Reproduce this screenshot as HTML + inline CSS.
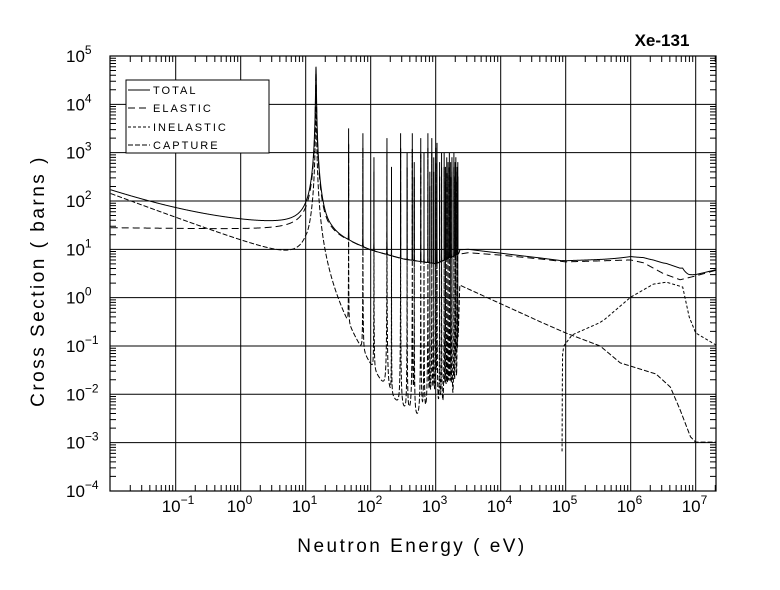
<!DOCTYPE html>
<html><head><meta charset="utf-8"><style>
html,body{margin:0;padding:0;background:#fff;}
svg{display:block;font-family:"Liberation Sans",sans-serif;}
</style></head><body>
<svg id="s" width="780" height="590" viewBox="0 0 780 590" xmlns="http://www.w3.org/2000/svg">
<defs><clipPath id="c"><rect x="110" y="56" width="606" height="435"/></clipPath></defs>
<rect width="780" height="590" fill="#fff"/>
<g id="grid" stroke="#000" stroke-width="1" fill="none"></g>
<g id="curves" clip-path="url(#c)" fill="none" stroke="#000" stroke-width="1"></g>
<rect x="110" y="56" width="606" height="435" fill="none" stroke="#000" stroke-width="1.2"/>
<g id="labels" font-size="17" fill="#000"></g>
<text x="662" y="46" font-size="17" font-weight="bold" text-anchor="middle">Xe-131</text>
<text x="412" y="552" font-size="19" text-anchor="middle" letter-spacing="2.5" font-weight="300">Neutron Energy ( eV)</text>
<text transform="translate(44,281) rotate(-90)" font-size="19" text-anchor="middle" letter-spacing="2.5">Cross Section ( barns )</text>
<g id="legend">
<rect x="126" y="80" width="143" height="73" fill="#fff" stroke="#000" stroke-width="1"/>
<line x1="128" y1="90" x2="150" y2="90" stroke="#000"/>
<line x1="128" y1="108" x2="150" y2="108" stroke="#000" stroke-dasharray="7,4"/>
<line x1="128" y1="127" x2="150" y2="127" stroke="#000" stroke-dasharray="3,2"/>
<line x1="128" y1="145" x2="150" y2="145" stroke="#000" stroke-dasharray="5,2"/>
<g font-size="11" letter-spacing="2">
<text x="153" y="94">TOTAL</text>
<text x="153" y="112">ELASTIC</text>
<text x="153" y="131">INELASTIC</text>
<text x="153" y="149">CAPTURE</text>
</g></g>
</svg>
<script>
(function(){
var NS="http://www.w3.org/2000/svg";
function X(l){return 110.7+(l+2)*65;}
function Y(l){return 56+(5-l)*48.33;}
function el(tag,attrs,parent,txt){var e=document.createElementNS(NS,tag);for(var k in attrs)e.setAttribute(k,attrs[k]);if(txt!=null)e.textContent=txt;parent.appendChild(e);return e;}
var grid=document.getElementById('grid'),lab=document.getElementById('labels');
var d="";
for(var p=-1;p<=7;p++){var x=X(p);d+="M"+x+" 56V491";}
for(var q=-3;q<=4;q++){var y=Y(q);d+="M110 "+y+"H716";}
for(var p=-2;p<=7;p++){for(var m=2;m<=9;m++){var x=X(p+Math.log10(m));if(x>716)continue;d+="M"+x+" 491v-6M"+x+" 56v6";}}
for(var q=-4;q<=4;q++){for(var m=2;m<=9;m++){var y=Y(q+Math.log10(m));d+="M110 "+y+"h6M716 "+y+"h-6";}}
for(var q=-4;q<=5;q++){var y=Y(q);d+="M110 "+y+"h10M716 "+y+"h-10";}
el('path',{d:d},grid);
for(var p=-1;p<=7;p++){var x=X(p);var t=el('text',{x:x-14,y:512},lab);t.textContent="10";el('tspan',{dy:-8,'font-size':12},t,String(p).replace('-','\u2212'));}
for(var q=-4;q<=5;q++){var y=Y(q);var t=el('text',{x:66,y:y+6},lab);t.textContent="10";el('tspan',{dy:-8,'font-size':12},t,String(q).replace('-','\u2212'));}
function pw(pts,l){if(l<=pts[0][0])return pts[0][1];for(var i=1;i<pts.length;i++){if(l<=pts[i][0]){var a=pts[i-1],b=pts[i];return a[1]+(b[1]-a[1])*(l-a[0])/(b[0]-a[0]);}}return pts[pts.length-1][1];}
var Sc=[[-2,2.15],[0,1.15],[1.0,0.65],[1.3,-1.5],[1.5,-3.0],[3.3,-3.0],[3.37,0.26],[4.61,-0.5],[5,-0.73],[5.53,-1.0],[5.84,-1.35],[6.39,-1.58],[6.61,-1.85],[6.76,-2.32],[6.92,-2.88],[7,-2.99],[7.4,-2.99]];
var Se=[[-2,1.36],[1.4,1.3],[2,0.98],[2.5,0.8],[3,0.7],[3.36,0.9],[3.5,0.93],[4,0.88],[4.61,0.8],[5,0.74],[6,0.78],[6.2,0.72],[6.5,0.5],[6.76,0.37],[7,0.45],[7.4,0.6]];
var Si=[[4.94,-4.5],[4.95,-1.2],[4.97,-1.0],[5.1,-0.77],[5.52,-0.52],[5.6,-0.45],[6.0,0.01],[6.35,0.28],[6.55,0.32],[6.8,0.22],[6.9,-0.4],[7.0,-0.73],[7.4,-1.05]];
var res=[[1.66,3.5],[1.88,3.4],[2.05,2.9],[2.25,3.3],[2.32,2.7],[2.46,3.4],[2.56,3.0],[2.64,3.4],[2.67,2.8],[2.77,3.3],[2.82,3.0],[2.88,3.4],[2.91,2.6],[2.94,3.3],[2.97,2.9],[3.0,3.1],[3.02,3.2],[3.06,2.8],[3.09,3.0],[3.13,3.0],[3.15,2.7],[3.17,2.9],[3.19,2.8],[3.21,3.0],[3.23,2.8],[3.25,2.9],[3.28,3.0],[3.3,2.8],[3.31,2.9],[3.33,2.7],[3.34,2.8]];
var R=[{E:14.4,h:0.15,pe:4.7e4,pc:1.3e4}];
res.forEach(function(r){var E=Math.pow(10,r[0]),P=Math.pow(10,r[1]);R.push({E:E,h:(r[0]<2.3?0.0002:0.0001)*E,pe:P*0.5,pc:P*0.5});});
var Ls=[];for(var l=-2;l<=7.32;l+=0.004)Ls.push(l);
R.forEach(function(r){var ks=[0,0.3,0.6,1,1.5,2,3,5,8,12,20,40,80,160];ks.forEach(function(k){[-1,1].forEach(function(sg){var E=r.E+sg*k*r.h;if(E>0)Ls.push(Math.log10(E));});});});
Ls.sort(function(a,b){return a-b;});
function bw(E,r,P){var z=(E-r.E)/r.h;return P/(1+z*z);}
var pt=[],pe=[],pc=[],pi=[];
Ls.forEach(function(l){var E=Math.pow(10,l);var c=Math.pow(10,pw(Sc,l)),e=Math.pow(10,pw(Se,l)),i=l>=4.94?Math.pow(10,pw(Si,l)):0;
R.forEach(function(r){c+=bw(E,r,r.pc);e+=bw(E,r,r.pe);});
var t=c+e+i;var x=X(l).toFixed(2);
pt.push(x+","+Y(Math.log10(t)).toFixed(2));pe.push(x+","+Y(Math.log10(e)).toFixed(2));pc.push(x+","+Math.min(600,Y(Math.log10(c))).toFixed(2));
if(l>=4.94)pi.push(x+","+Math.min(600,Y(Math.log10(i))).toFixed(2));});
var cv=document.getElementById('curves');
el('polyline',{points:pc.join(" "),'stroke-dasharray':"5,2"},cv);
el('polyline',{points:pi.join(" "),'stroke-dasharray':"3,2"},cv);
el('polyline',{points:pe.join(" "),'stroke-dasharray':"7,4"},cv);
el('polyline',{points:pt.join(" ")},cv);
})();
</script>
</body></html>
